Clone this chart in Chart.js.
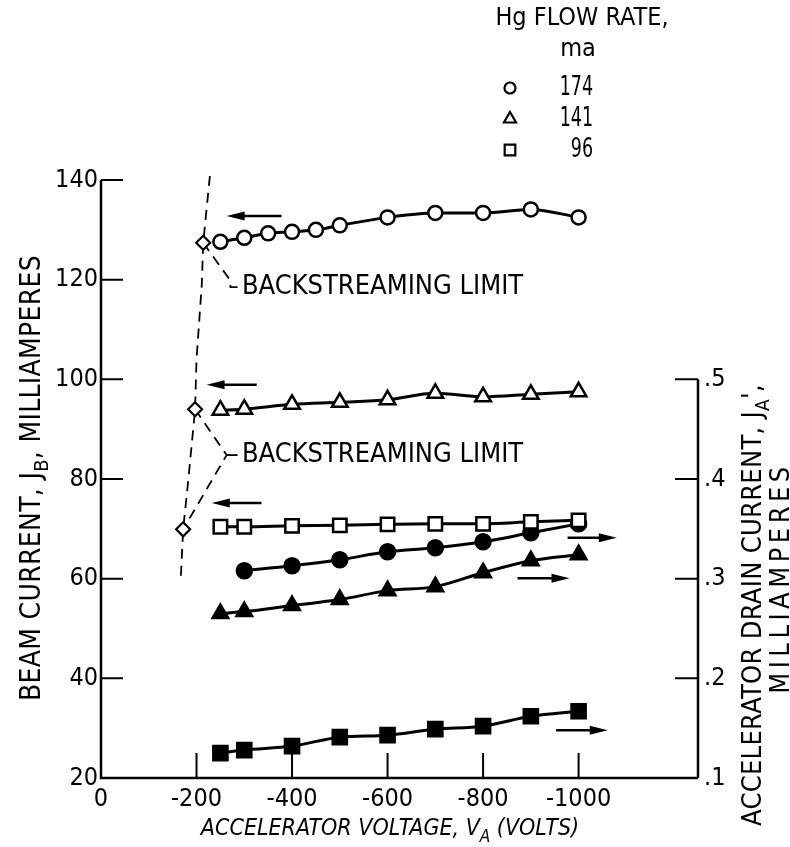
<!DOCTYPE html>
<html>
<head>
<meta charset="utf-8">
<script src="https://cdn.jsdelivr.net/npm/chart.js@4.4.0/dist/chart.umd.min.js"></script>
<style>
  html, body { margin: 0; padding: 0; background: #fff; }
</style>
</head>
<body>
<canvas id="chart" width="790" height="847"></canvas>
<script>
var FONT = '"DejaVu Sans Condensed", "Liberation Sans Narrow", "Roboto", sans-serif';

// beam current (left axis, mA), open symbols
var volts174 = [-250, -300, -350, -400, -450, -500, -600, -700, -800, -900, -1000];
var beam174  = [127.6, 128.4, 129.3, 129.6, 130.0, 130.9, 132.5, 133.4, 133.4, 134.1, 132.5];
var volts141 = [-250, -300, -400, -500, -600, -700, -800, -900, -1000];
var beam141  = [93.8, 94.0, 95.0, 95.4, 95.9, 97.2, 96.5, 97.0, 97.5];
var volts96  = [-250, -300, -400, -500, -600, -700, -800, -900, -1000];
var beam96   = [70.4, 70.4, 70.6, 70.7, 70.9, 71.0, 71.0, 71.4, 71.7];

// accelerator drain current (right axis, mA), filled symbols
var drainVolts174 = [-300, -400, -500, -600, -700, -800, -900, -1000];
var drain174      = [0.308, 0.313, 0.319, 0.327, 0.331, 0.337, 0.346, 0.355];
var drainVolts141 = [-250, -300, -400, -500, -600, -700, -800, -900, -1000];
var drain141      = [0.265, 0.267, 0.273, 0.279, 0.288, 0.292, 0.306, 0.318, 0.324];
var drainVolts96  = [-250, -300, -400, -500, -600, -700, -800, -900, -1000];
var drain96       = [0.125, 0.128, 0.132, 0.141, 0.143, 0.149, 0.152, 0.162, 0.167];

// backstreaming limit points and dashed curve
var limitVolts = [-214, -197, -172];
var limitBeam  = [127.4, 94.0, 69.9];
var limitCurveVolts = [-228, -214, -211, -200, -197, -183, -172, -167];
var limitCurveBeam  = [140.8, 127.4, 119, 104, 94, 80, 69.9, 60];

// leaders to the labels
var leader1Volts = [-214, -271, -271, -286];
var leader1Beam  = [127.4, 119.8, 118.5, 118.5];
var leader2Volts = [-197, -263, -172];
var leader2Beam  = [94, 84.8, 69.9];
var leader2TickVolts = [-263, -286];
var leader2TickBeam  = [84.8, 84.8];

var labelText = 'BACKSTREAMING LIMIT';
var labelVolts = [-295, -295];
var labelBeam  = [118.5, 84.8];

// arrows: [tail volts, head volts, beam level]
var arrows = [
  [-378, -263, 132.8],
  [-326, -221, 98.9],
  [-336, -232, 75.2],
  [-977, -1080, 68.2],
  [-872, -981, 60.1],
  [-953, -1061, 29.6]
];

var xTicks = [0, -200, -400, -600, -800, -1000];
var legendNames = ['174', '141', '96'];
var legendStyles = ['circle', 'triangle', 'rect'];

function pts(xs, ys) {
  return xs.map(function (v, i) { return { x: v, y: ys[i] }; });
}

function series(label, xs, ys, style, radius, filled, axis) {
  return {
    label: label,
    data: pts(xs, ys),
    yAxisID: axis,
    borderColor: '#000',
    borderWidth: 3,
    pointStyle: style,
    pointRadius: radius,
    pointBorderWidth: 2.5,
    pointBorderColor: '#000',
    pointBackgroundColor: filled ? '#000' : '#fff',
    cubicInterpolationMode: 'monotone',
    fill: false
  };
}

function dashed(xs, ys, dash, width) {
  return {
    data: pts(xs, ys),
    yAxisID: 'y',
    borderColor: '#000',
    borderWidth: width,
    borderDash: dash,
    pointRadius: 0,
    tension: 0,
    fill: false,
    clip: false
  };
}

function drawRich(ctx, parts, x, y, size, italic, spacing) {
  var base = (italic ? 'italic ' : '') + size + 'px ' + FONT;
  var sub = (italic ? 'italic ' : '') + Math.round(size * 0.72) + 'px ' + FONT;
  ctx.letterSpacing = (spacing || 0) + 'px';
  var total = 0;
  parts.forEach(function (p) {
    ctx.font = p.sub ? sub : base;
    p.w = ctx.measureText(p.t).width;
    total += p.w;
  });
  var cx = x - total / 2;
  ctx.textBaseline = 'alphabetic';
  ctx.textAlign = 'left';
  parts.forEach(function (p) {
    ctx.font = p.sub ? sub : base;
    ctx.fillText(p.t, cx, p.sub ? y + size * 0.3 : y);
    cx += p.w;
  });
  ctx.letterSpacing = '0px';
}

// narrow text: draw squeezed horizontally, right edge at x
function drawNarrow(ctx, text, x, y, size, squeeze) {
  ctx.save();
  ctx.translate(x, y);
  ctx.scale(squeeze, 1);
  ctx.font = size + 'px ' + FONT;
  ctx.textAlign = 'right';
  ctx.textBaseline = 'middle';
  ctx.fillText(text, 0, 0);
  ctx.restore();
}

var decor = {
  id: 'decor',
  afterDraw: function (chart) {
    var ctx = chart.ctx;
    var xs = chart.scales.x, ys = chart.scales.y, y2 = chart.scales.y2;
    var a = chart.chartArea;
    ctx.save();
    ctx.strokeStyle = '#000';
    ctx.fillStyle = '#000';
    ctx.lineWidth = 2.5;
    ctx.setLineDash([]);

    // axis lines
    ctx.beginPath();
    ctx.moveTo(a.left, a.top);
    ctx.lineTo(a.left, a.bottom);
    ctx.lineTo(a.right, a.bottom);
    ctx.moveTo(a.right, a.bottom);
    ctx.lineTo(a.right, y2.getPixelForValue(0.5));
    ctx.stroke();

    // inward ticks
    ctx.lineWidth = 2;
    ctx.beginPath();
    ys.ticks.forEach(function (t) {
      var py = ys.getPixelForValue(t.value);
      ctx.moveTo(a.left, py); ctx.lineTo(a.left + 22, py);
    });
    xs.ticks.forEach(function (t) {
      if (t.value < -1000 || t.value >= 0) return;
      var px = xs.getPixelForValue(t.value);
      ctx.moveTo(px, a.bottom); ctx.lineTo(px, a.bottom - 25);
    });
    y2.ticks.forEach(function (t) {
      if (t.value > 0.5001) return;
      var py = y2.getPixelForValue(t.value);
      ctx.moveTo(a.right, py); ctx.lineTo(a.right - 23, py);
    });
    ctx.stroke();

    // arrows
    ctx.lineWidth = 2.5;
    arrows.forEach(function (ar) {
      var x1 = xs.getPixelForValue(ar[0]), x2 = xs.getPixelForValue(ar[1]);
      var py = ys.getPixelForValue(ar[2]);
      var dir = x2 > x1 ? 1 : -1;
      ctx.beginPath();
      ctx.moveTo(x1, py); ctx.lineTo(x2 - dir * 10, py);
      ctx.stroke();
      ctx.beginPath();
      ctx.moveTo(x2, py);
      ctx.lineTo(x2 - dir * 18, py - 4.5);
      ctx.lineTo(x2 - dir * 18, py + 4.5);
      ctx.closePath();
      ctx.fill();
    });

    // labels
    ctx.font = '27px ' + FONT;
    ctx.textAlign = 'left';
    ctx.textBaseline = 'middle';
    labelVolts.forEach(function (v, i) {
      ctx.fillText(labelText, xs.getPixelForValue(v), ys.getPixelForValue(labelBeam[i]));
    });

    // axis titles
    drawRich(ctx, [{ t: 'ACCELERATOR VOLTAGE, V' }, { t: 'A', sub: true }, { t: ' (VOLTS)' }], 390, 835, 23, true, 0);

    ctx.save();
    ctx.translate(40, 478);
    ctx.rotate(-Math.PI / 2);
    drawRich(ctx, [{ t: 'BEAM CURRENT, J' }, { t: 'B', sub: true }, { t: ', MILLIAMPERES' }], 0, 0, 28, false, 0.3);
    ctx.restore();

    ctx.save();
    ctx.translate(761, 605);
    ctx.rotate(-Math.PI / 2);
    drawRich(ctx, [{ t: 'ACCELERATOR DRAIN CURRENT, J' }, { t: 'A', sub: true }, { t: "'," }], 0, 0, 27, false, 0.3);
    ctx.restore();
    ctx.save();
    ctx.translate(789, 578);
    ctx.rotate(-Math.PI / 2);
    drawRich(ctx, [{ t: 'MILLIAMPERES' }], 0, 0, 27, false, 4.5);
    ctx.restore();

    // legend
    ctx.font = '25px ' + FONT;
    ctx.textAlign = 'center';
    ctx.textBaseline = 'middle';
    ctx.fillText('Hg FLOW RATE,', 582, 18);
    ctx.fillText('ma', 578, 49);
    legendNames.forEach(function (n, i) {
      var py = 88 + i * 31;
      ctx.fillStyle = '#000';
      drawNarrow(ctx, n, 593, py, 27, 0.72);
      ctx.fillStyle = '#fff';
      ctx.strokeStyle = '#000';
      ctx.lineWidth = 2.2;
      Chart.helpers.drawPoint(ctx, {
        pointStyle: legendStyles[i],
        radius: legendStyles[i] === 'rect' ? 7.5 : (legendStyles[i] === 'triangle' ? 7 : 5.5),
        rotation: 0,
        borderWidth: 2.2
      }, 510, py);
    });
    ctx.restore();
  }
};

new Chart(document.getElementById('chart'), {
  type: 'line',
  data: {
    datasets: [
      {
        data: pts(limitVolts, limitBeam),
        yAxisID: 'y',
        showLine: false,
        pointStyle: 'rectRot',
        pointRadius: 7,
        pointBorderWidth: 2.2,
        pointBorderColor: '#000',
        pointBackgroundColor: '#fff'
      },
      series('174', volts174, beam174, 'circle', 7, false, 'y'),
      series('141', volts141, beam141, 'triangle', 9, false, 'y'),
      series('96', volts96, beam96, 'rect', 9.5, false, 'y'),
      series('174 drain', drainVolts174, drain174, 'circle', 7.5, true, 'y2'),
      series('141 drain', drainVolts141, drain141, 'triangle', 9, true, 'y2'),
      series('96 drain', drainVolts96, drain96, 'rect', 10, true, 'y2'),
      dashed(limitCurveVolts, limitCurveBeam, [10, 7], 1.8),
      dashed(leader1Volts, leader1Beam, [10, 7], 1.8),
      dashed(leader2Volts, leader2Beam, [10, 7], 1.8),
      dashed(leader2TickVolts, leader2TickBeam, [], 1.8)
    ]
  },
  options: {
    responsive: false,
    animation: false,
    devicePixelRatio: 1,
    layout: { padding: { top: 180, left: 0, right: 0, bottom: 0 } },
    plugins: { legend: { display: false }, tooltip: { enabled: false } },
    scales: {
      x: {
        type: 'linear',
        min: -1250,
        max: 0,
        reverse: true,
        grid: { display: false, drawTicks: false },
        border: { display: false },
        afterBuildTicks: function (s) { s.ticks = xTicks.map(function (v) { return { value: v }; }); },
        ticks: {
          font: { family: FONT, size: 25 }, color: '#000', padding: 6, maxRotation: 0, autoSkip: false,
          callback: function (v) { return String(v); }
        },
        afterFit: function (s) { s.height = 69; }
      },
      y: {
        position: 'left',
        min: 20,
        max: 140,
        grid: { display: false, drawTicks: false },
        border: { display: false },
        ticks: { stepSize: 20, font: { family: FONT, size: 25 }, color: '#000', padding: 3 },
        afterFit: function (s) { s.width = 101; }
      },
      y2: {
        position: 'right',
        min: 0.1,
        max: 0.7,
        grid: { display: false, drawTicks: false },
        border: { display: false },
        ticks: {
          stepSize: 0.1,
          font: { family: FONT, size: 25 },
          color: '#000',
          padding: 6,
          callback: function (v) { return v > 0.5001 ? '' : '.' + Math.round(v * 10); }
        },
        afterFit: function (s) { s.width = 92; }
      }
    }
  },
  plugins: [decor]
});
</script>
</body>
</html>
